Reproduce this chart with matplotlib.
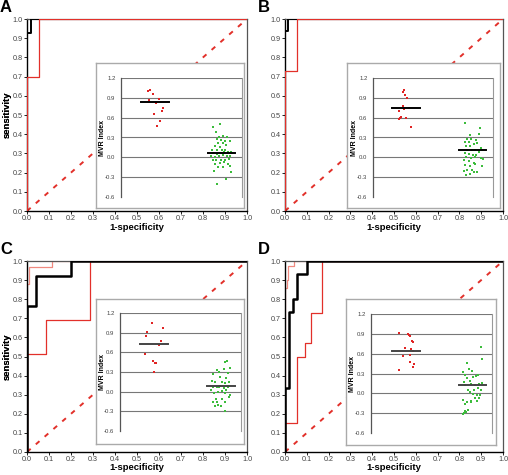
import numpy as np
import matplotlib.pyplot as plt

plt.rcParams['font.family'] = ['Liberation Sans', 'DejaVu Sans']

W, H = 508, 475
panels = ['A', 'B', 'C', 'D']

# ROC curves: vertices (1-specificity, sensitivity)
black_fpr = {'A': [0, 0, 0.02, 0.02, 1],
             'B': [0, 0, 0.015, 0.015, 1],
             'C': [0, 0, 0.04, 0.04, 0.2, 0.2, 1],
             'D': [0, 0, 0.017, 0.017, 0.037, 0.037, 0.055, 0.055, 0.1, 0.1, 1]}
black_tpr = {'A': [0, 0.925, 0.925, 1, 1],
             'B': [0, 0.94, 0.94, 1, 1],
             'C': [0, 0.767, 0.767, 0.92, 0.92, 1, 1],
             'D': [0, 0.335, 0.335, 0.735, 0.735, 0.80, 0.80, 0.932, 0.932, 1, 1]}
red_fpr = {'A': [0, 0, 0.055, 0.055, 1],
           'B': [0, 0, 0.055, 0.055, 1],
           'C': [0, 0, 0.088, 0.088, 0.287, 0.287, 1],
           'D': [0, 0, 0.055, 0.055, 0.09, 0.09, 0.12, 0.12, 0.17, 0.17, 1]}
red_tpr = {'A': [0, 0.70, 0.70, 1, 1],
           'B': [0, 0.73, 0.73, 1, 1],
           'C': [0, 0.515, 0.515, 0.69, 0.69, 1, 1],
           'D': [0, 0.15, 0.15, 0.50, 0.50, 0.57, 0.57, 0.73, 0.73, 1, 1]}
pink_fpr = {'C': [0, 0, 0.008, 0.008, 0.114, 0.114, 1],
            'D': [0, 0, 0.01, 0.01, 0.016, 0.016, 0.04, 0.04, 1]}
pink_tpr = {'C': [0, 0.878, 0.878, 0.969, 0.969, 1, 1],
            'D': [0, 0.86, 0.86, 0.90, 0.90, 0.974, 0.974, 1, 1]}

# inset MVR index scatter: (x position, value)
red_x = {'A': [0.225, 0.236, 0.264, 0.316, 0.231, 0.288, 0.343, 0.272, 0.341, 0.321, 0.300],
         'B': [0.262, 0.246, 0.268, 0.285, 0.249, 0.260, 0.298, 0.218, 0.279, 0.232, 0.215, 0.227, 0.315],
         'C': [0.261, 0.354, 0.220, 0.212, 0.335, 0.319, 0.209, 0.272, 0.286, 0.294, 0.283],
         'D': [0.229, 0.309, 0.318, 0.326, 0.337, 0.345, 0.285, 0.331, 0.343, 0.326, 0.262, 0.320, 0.359, 0.348, 0.229]}
red_v = {'A': [1.01, 1.015, 0.955, 0.88, 0.86, 0.815, 0.745, 0.655, 0.695, 0.55, 0.475],
         'B': [1.02, 0.985, 0.945, 0.895, 0.78, 0.725, 0.75, 0.705, 0.60, 0.61, 0.58, 0.60, 0.465],
         'C': [1.045, 0.97, 0.91, 0.855, 0.77, 0.715, 0.57, 0.475, 0.44, 0.435, 0.295],
         'D': [0.91, 0.895, 0.875, 0.865, 0.79, 0.77, 0.685, 0.665, 0.635, 0.585, 0.56, 0.47, 0.44, 0.395, 0.36]}
green_x = {'A': [0.761, 0.816, 0.783, 0.813, 0.846, 0.874, 0.797, 0.830, 0.857, 0.901, 0.802, 0.843,
                 0.775, 0.816, 0.871, 0.753, 0.797, 0.835, 0.860, 0.907, 0.920, 0.764, 0.791, 0.824,
                 0.852, 0.885, 0.775, 0.808, 0.843, 0.874, 0.901, 0.761, 0.788, 0.830, 0.863, 0.896,
                 0.780, 0.816, 0.852, 0.885, 0.802, 0.843, 0.898, 0.769, 0.912, 0.865, 0.797, 0.742],
           'B': [0.765, 0.892, 0.884, 0.809, 0.785, 0.815, 0.856, 0.768, 0.796, 0.843, 0.867, 0.773,
                 0.807, 0.898, 0.787, 0.823, 0.851, 0.884, 0.912, 0.768, 0.801, 0.834, 0.862, 0.779,
                 0.815, 0.851, 0.898, 0.920, 0.760, 0.796, 0.843, 0.768, 0.807, 0.851, 0.906, 0.787,
                 0.823, 0.870, 0.762, 0.779, 0.807, 0.845],
           'C': [0.885, 0.871, 0.802, 0.819, 0.863, 0.907, 0.772, 0.830, 0.896, 0.879, 0.758, 0.786,
                 0.841, 0.868, 0.901, 0.766, 0.802, 0.830, 0.857, 0.890, 0.813, 0.780, 0.841, 0.868,
                 0.907, 0.791, 0.841, 0.904, 0.766, 0.802, 0.868, 0.786, 0.813, 0.838, 0.871, 0.753,
                 0.879, 0.821],
           'D': [0.906, 0.914, 0.796, 0.760, 0.810, 0.834, 0.884, 0.773, 0.796, 0.843, 0.870, 0.768,
                 0.815, 0.895, 0.917, 0.779, 0.829, 0.862, 0.801, 0.851, 0.884, 0.912, 0.843, 0.873,
                 0.900, 0.818, 0.856, 0.890, 0.878, 0.760, 0.796, 0.823, 0.779, 0.829, 0.801, 0.779,
                 0.768, 0.760, 0.787]}
green_v = {'A': [0.455, 0.50, 0.385, 0.315, 0.33, 0.305, 0.275, 0.265, 0.245, 0.24, 0.215, 0.215,
                 0.165, 0.155, 0.19, 0.105, 0.115, 0.105, 0.115, 0.085, 0.065, 0.065, 0.05, 0.065,
                 0.075, 0.075, 0.005, 0.015, 0.04, 0.025, 0.015, -0.045, -0.045, -0.045, -0.035, -0.025,
                 -0.095, -0.085, -0.075, -0.095, -0.145, -0.145, -0.125, -0.20, -0.225, -0.335, -0.40, 0.025],
           'B': [0.515, 0.45, 0.355, 0.335, 0.275, 0.275, 0.265, 0.235, 0.225, 0.205, 0.215, 0.165,
                 0.175, 0.135, 0.105, 0.115, 0.105, 0.085, 0.115, 0.065, 0.055, 0.04, 0.04, 0.005,
                 -0.01, 0.005, -0.01, -0.025, -0.045, -0.06, -0.085, -0.11, -0.125, -0.095, -0.125, -0.185,
                 -0.195, -0.215, -0.21, -0.26, -0.255, -0.215],
           'C': [0.475, 0.45, 0.335, 0.305, 0.34, 0.365, 0.27, 0.225, 0.29, 0.215, 0.165, 0.155,
                 0.155, 0.135, 0.155, 0.075, 0.065, 0.085, 0.055, 0.075, -0.005, -0.025, 0.015, -0.025,
                 -0.045, -0.11, -0.11, -0.085, -0.155, -0.155, -0.15, -0.215, -0.205, -0.225, -0.30, 0.03,
                 0.03, 0.065],
           'D': [0.70, 0.515, 0.465, 0.32, 0.375, 0.34, 0.27, 0.275, 0.235, 0.25, 0.26, 0.17,
                 0.18, 0.145, 0.155, 0.12, 0.135, 0.125, 0.055, 0.045, 0.085, 0.045, -0.005, -0.02,
                 -0.02, 0.02, -0.065, -0.065, -0.115, -0.095, -0.13, -0.115, -0.155, -0.135, -0.245, -0.265,
                 -0.305, -0.32, -0.28]}
red_med = {'A': 0.83, 'B': 0.75, 'C': 0.73, 'D': 0.64}
green_med = {'A': 0.065, 'B': 0.11, 'C': 0.08, 'D': 0.12}
red_span = {'A': (0.165, 0.396), 'B': (0.16, 0.392), 'C': (0.165, 0.396), 'D': (0.171, 0.403)}
green_span = {'A': (0.72, 0.945), 'B': (0.718, 0.945), 'C': (0.72, 0.95), 'D': (0.727, 0.953)}

main_ticks = np.round(np.arange(0, 1.01, 0.1), 1)
inset_ticks = [1.2, 0.9, 0.6, 0.3, 0.0, -0.3, -0.6]

# pixel boxes (left, top, right, bottom)
main_box = {'A': (27, 19, 247, 211), 'B': (285, 19, 503, 211),
            'C': (27, 261, 247, 452), 'D': (285, 261, 503, 452)}
frame_box = {'A': (96, 63, 244, 208), 'B': (347, 63, 500, 208),
             'C': (96, 299, 244, 444), 'D': (346, 299, 496, 445)}
inset_box = {'A': (121, 78, 242, 197), 'B': (373, 78, 493, 197),
             'C': (120, 313, 241, 431), 'D': (371, 314, 492, 433)}


def rect(b):
    l, t, r, btm = b
    return [l / W, 1 - btm / H, (r - l) / W, (btm - t) / H]


RED = '#e2302a'
PINK = '#f08a80'
fig = plt.figure(figsize=(W / 100, H / 100), dpi=100)

for p in panels:
    l, t, r, b = main_box[p]
    ax = fig.add_axes(rect(main_box[p]))
    ax.plot([0, 1], [0, 1], color=RED, lw=1.4, dashes=(2.5, 3.5), zorder=1)
    if p in pink_fpr:
        ax.plot(pink_fpr[p], pink_tpr[p], color=PINK, lw=0.9, zorder=2)
    ax.plot(red_fpr[p], red_tpr[p], color=RED, lw=0.9,
            zorder=3.5 if p in 'AB' else 2)
    ax.plot(black_fpr[p], black_tpr[p], color='black',
            lw=1.4 if p in 'AB' else 1.8, zorder=3)
    ax.set_xlim(0, 1)
    ax.set_ylim(0, 1)
    ax.set_xticks(main_ticks)
    ax.set_yticks(main_ticks)
    ax.set_xticklabels(['%.1f' % v for v in main_ticks])
    ax.set_yticklabels(['%.1f' % v for v in main_ticks])
    ax.tick_params(labelsize=5.2, labelcolor='#444444', length=2, width=0.6, pad=1.2)
    for s in ['top', 'right']:
        ax.spines[s].set_color('#555555')
        ax.spines[s].set_linewidth(0.9)
    for s in ['left', 'bottom']:
        ax.spines[s].set_linewidth(1.0)
    ax.set_xlabel('1-specificity', fontsize=6.8, fontweight='bold')
    ax.xaxis.set_label_coords(0.5, -(17 if p in 'AB' else 15.5) / (b - t))
    ax.xaxis.label.set_va('center')
    ax.set_ylabel('sensitivity', fontsize=6.8, fontweight='bold')
    ax.yaxis.set_label_coords(-(l - 7) / (r - l), 0.5)
    ax.yaxis.label.set_va('center')
    fig.text((l - 27) / W, 1 - (t - 11) / H, p, fontsize=12, fontweight='bold',
             va='center', ha='left')

    # inset frame
    fr = fig.add_axes(rect(frame_box[p]))
    fr.set_xticks([])
    fr.set_yticks([])
    for s in fr.spines.values():
        s.set_color('#aaaaaa')
        s.set_linewidth(1.0)

    il, it, ir, ib = inset_box[p]
    ins = fig.add_axes(rect(inset_box[p]))
    ins.set_xlim(0, 1)
    ins.set_ylim(-0.6, 1.2)
    for v in inset_ticks[:-1]:
        ins.axhline(v, color='#777777', lw=0.8, zorder=1)
    ins.scatter(red_x[p], red_v[p], s=3.5, marker='s', color='#e02424', lw=0, zorder=3)
    ins.scatter(green_x[p], green_v[p], s=3.5, marker='s', color='#3cbc3c', lw=0, zorder=3)
    mc = 'black' if p in 'AB' else '#444444'
    ins.plot(red_span[p], [red_med[p]] * 2, color=mc, lw=1.4, zorder=4)
    ins.plot(green_span[p], [green_med[p]] * 2, color=mc, lw=1.4, zorder=4)
    ins.set_xticks([])
    ins.set_yticks(inset_ticks)
    ins.set_yticklabels(['%.1f' % v for v in inset_ticks])
    ins.tick_params(axis='y', labelsize=4.3, labelcolor='#444444', length=0, pad=4)
    ins.spines['bottom'].set_visible(False)
    ins.spines['top'].set_visible(False)
    ins.spines['right'].set_color('#999999')
    ins.spines['right'].set_linewidth(0.8)
    ins.spines['left'].set_color('#555555')
    ins.spines['left'].set_linewidth(0.9)
    ins.set_ylabel('MVR Index', fontsize=5, fontweight='bold')
    ins.yaxis.set_label_coords(-18 / (ir - il), 0.5)
    ins.yaxis.label.set_va('center')

fig.savefig('out.png', dpi=100)
